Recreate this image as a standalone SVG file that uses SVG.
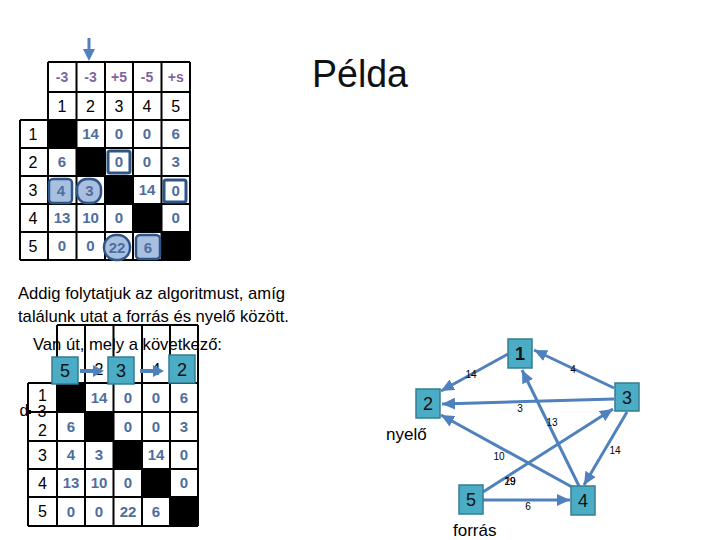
<svg xmlns="http://www.w3.org/2000/svg" width="720" height="540" viewBox="0 0 720 540">
<defs>
<style>
.grid{stroke:#000;stroke-width:2;fill:none}
.blk{fill:#000}
.lbl{font-family:"Liberation Sans",Arial,sans-serif;font-size:16px;fill:#000;text-anchor:middle}
.val{font-family:"Liberation Sans",Arial,sans-serif;font-size:15px;font-weight:bold;fill:#4e6e9e;text-anchor:middle}
.hdr{font-family:"Liberation Sans",Arial,sans-serif;font-size:14px;font-weight:bold;fill:#7f659f;text-anchor:middle}
.txt{font-family:"Liberation Sans",Arial,sans-serif;font-size:17px;fill:#000}
.node{fill:#4bacc6;stroke:#357d91;stroke-width:1.5}
.nlbl{font-family:"Liberation Sans",Arial,sans-serif;font-size:18px;fill:#111;text-anchor:middle}
.elbl{font-family:"Liberation Sans",Arial,sans-serif;font-size:10px;fill:#000;text-anchor:middle}
.edge{stroke:#4f81bd;stroke-width:3;fill:none}
.hl{fill:#fff;stroke:#2f5587;stroke-width:3}
.hlf{fill:#a9bfe0;stroke:#2f5587;stroke-width:2.5}
</style>
<marker id="ah" markerUnits="userSpaceOnUse" markerWidth="14" markerHeight="12" refX="13" refY="6" orient="auto">
<path d="M0,0 L13,6 L0,12 Z" fill="#4f81bd"/>
</marker>
</defs>

<!-- Title -->
<text x="312" y="87" font-family="'Liberation Sans',Arial,sans-serif" font-size="38" fill="#111" textLength="96" lengthAdjust="spacingAndGlyphs">Példa</text>

<!-- Top table -->
<g id="table-top">
<rect class="blk" x="48" y="120" width="28.5" height="28"/>
<rect class="blk" x="76.5" y="148" width="28.5" height="28"/>
<rect class="blk" x="105" y="176" width="28" height="28"/>
<rect class="blk" x="133" y="204" width="28.5" height="28"/>
<rect class="blk" x="161.5" y="232" width="28.5" height="28"/>
<path class="grid" d="M48,62H190M48,92H190M20,120H190M20,148H190M20,176H190M20,204H190M20,232H190M20,260H190M20,120V260M48,62V260M76.5,62V260M105,62V260M133,62V260M161.5,62V260M190,62V260"/>
<!-- highlights -->
<rect class="hl" x="108" y="151" width="22" height="22" rx="2"/>
<rect class="hl" x="164" y="180" width="22" height="22" rx="2"/>
<rect class="hlf" x="49" y="179" width="23" height="24" rx="4"/>
<rect class="hlf" x="77" y="179" width="24" height="24" rx="10"/>
<rect class="hlf" x="104" y="235" width="26" height="25" rx="12"/>
<rect class="hlf" x="136" y="235" width="24" height="24" rx="4"/>
<text class="hdr" x="62" y="82">-3</text>
<text class="hdr" x="90.5" y="82">-3</text>
<text class="hdr" x="119" y="82">+5</text>
<text class="hdr" x="147" y="82">-5</text>
<text class="hdr" x="175.7" y="82">+s</text>
<text class="lbl" x="62" y="112">1</text>
<text class="lbl" x="90.5" y="112">2</text>
<text class="lbl" x="119" y="112">3</text>
<text class="lbl" x="147" y="112">4</text>
<text class="lbl" x="175.7" y="112">5</text>
<text class="lbl" x="33" y="140">1</text>
<text class="lbl" x="33" y="168">2</text>
<text class="lbl" x="33" y="196">3</text>
<text class="lbl" x="33" y="224">4</text>
<text class="lbl" x="33" y="252">5</text>
<text class="val" x="90.5" y="139">14</text>
<text class="val" x="119" y="139">0</text>
<text class="val" x="147" y="139">0</text>
<text class="val" x="175.7" y="139">6</text>
<text class="val" x="62" y="167">6</text>
<text class="val" x="119" y="167">0</text>
<text class="val" x="147" y="167">0</text>
<text class="val" x="175.7" y="167">3</text>
<text class="val" x="61" y="196">4</text>
<text class="val" x="89.5" y="196">3</text>
<text class="val" x="147" y="195">14</text>
<text class="val" x="175.7" y="196">0</text>
<text class="val" x="62" y="223">13</text>
<text class="val" x="90.5" y="223">10</text>
<text class="val" x="119" y="223">0</text>
<text class="val" x="175.7" y="223">0</text>
<text class="val" x="62" y="251">0</text>
<text class="val" x="90.5" y="251">0</text>
<text class="val" x="117" y="253">22</text>
<text class="val" x="148" y="253">6</text>
</g>
<g id="top-arrow">
<line x1="89" y1="38" x2="89" y2="50" stroke="#4f81bd" stroke-width="3"/>
<path d="M83,49 L95,49 L89,61 Z" fill="#4f81bd"/>
</g>

<!-- Paragraph text -->
<text class="txt" x="18" y="299" textLength="267" lengthAdjust="spacingAndGlyphs">Addig folytatjuk az algoritmust, amíg</text>
<text class="txt" x="18" y="322" textLength="271" lengthAdjust="spacingAndGlyphs">találunk utat a forrás és nyelő között.</text>
<text class="txt" x="33" y="350" textLength="189" lengthAdjust="spacingAndGlyphs">Van út, mely a következő:</text>

<!-- Bottom table -->
<g id="table-bottom">
<rect class="blk" x="57" y="383" width="28" height="29"/>
<rect class="blk" x="85" y="412" width="28.5" height="29"/>
<rect class="blk" x="113.5" y="441" width="28.5" height="28"/>
<rect class="blk" x="142" y="469" width="28" height="28"/>
<rect class="blk" x="170" y="497" width="28" height="29"/>
<path class="grid" d="M57,325H198M28,383H198M28,412H198M28,441H198M28,469H198M28,497H198M28,526H198M28,383V526M57,325V526M85,325V526M113.5,325V526M142,325V526M170,325V526M198,325V526"/>
<text class="lbl" x="99" y="375">2</text>
<text class="lbl" x="156" y="375">4</text>
<text class="lbl" x="42.5" y="401">1</text>
<text class="lbl" x="42" y="417" font-size="11">3</text>
<text class="lbl" x="24" y="416">d</text>
<rect x="27" y="410" width="4" height="4" fill="#000"/>
<text class="lbl" x="42.5" y="436">2</text>
<text class="lbl" x="42.5" y="461">3</text>
<text class="lbl" x="42.5" y="489">4</text>
<text class="lbl" x="42.5" y="517">5</text>
<text class="val" x="99" y="403">14</text>
<text class="val" x="128" y="403">0</text>
<text class="val" x="156" y="403">0</text>
<text class="val" x="184" y="403">6</text>
<text class="val" x="71" y="432">6</text>
<text class="val" x="128" y="432">0</text>
<text class="val" x="156" y="432">0</text>
<text class="val" x="184" y="432">3</text>
<text class="val" x="71" y="460">4</text>
<text class="val" x="99" y="460">3</text>
<text class="val" x="156" y="460">14</text>
<text class="val" x="184" y="460">0</text>
<text class="val" x="71" y="488">13</text>
<text class="val" x="99" y="488">10</text>
<text class="val" x="128" y="488">0</text>
<text class="val" x="184" y="488">0</text>
<text class="val" x="71" y="517">0</text>
<text class="val" x="99" y="517">0</text>
<text class="val" x="128" y="517">22</text>
<text class="val" x="156" y="517">6</text>
</g>
<g id="path-boxes">
<rect class="node" x="52" y="357" width="26" height="27"/>
<text class="nlbl" x="65" y="377" font-size="17">5</text>
<rect class="node" x="108" y="357" width="26" height="27"/>
<text class="nlbl" x="121" y="377" font-size="17">3</text>
<rect class="node" x="169" y="355" width="26" height="28"/>
<text class="nlbl" x="182" y="376" font-size="17">2</text>
<line x1="80" y1="371" x2="94" y2="371" stroke="#4f81bd" stroke-width="4"/>
<path d="M93,365 L104,371 L93,377 Z" fill="#4f81bd"/>
<line x1="140" y1="371" x2="154" y2="371" stroke="#4f81bd" stroke-width="4"/>
<path d="M153,365 L164,371 L153,377 Z" fill="#4f81bd"/>
</g>

<!-- Graph connectors -->
<g id="connectors">
<line class="edge" x1="508" y1="354" x2="441" y2="391" marker-end="url(#ah)"/>
<line class="edge" x1="614" y1="388" x2="534" y2="350" marker-end="url(#ah)"/>
<line class="edge" x1="614" y1="399" x2="442" y2="404" marker-end="url(#ah)"/>
<line class="edge" x1="579" y1="486" x2="522" y2="370" marker-end="url(#ah)"/>
<line class="edge" x1="572" y1="487" x2="441" y2="415" marker-end="url(#ah)"/>
<line class="edge" x1="483" y1="492" x2="613" y2="409" marker-end="url(#ah)"/>
<line class="edge" x1="627" y1="412" x2="584" y2="485" marker-end="url(#ah)"/>
<line class="edge" x1="483" y1="500" x2="570" y2="500" marker-end="url(#ah)"/>
<text class="elbl" x="471" y="378">14</text>
<text class="elbl" x="573" y="373">4</text>
<text class="elbl" x="520" y="412">3</text>
<text class="elbl" x="552" y="426">13</text>
<text class="elbl" x="499" y="460">10</text>
<text class="elbl" x="615" y="454">14</text>
<text class="elbl" x="510" y="485">29</text>
<text class="elbl" x="510" y="485">19</text>
<text class="elbl" x="528" y="510">6</text>
</g>

<!-- Graph nodes -->
<g id="node-1"><rect class="node" x="508" y="339" width="24" height="29"/><text class="nlbl" x="520" y="360" font-weight="bold">1</text></g>
<g id="node-2"><rect class="node" x="416" y="389" width="24" height="29"/><text class="nlbl" x="428" y="410">2</text></g>
<g id="node-3"><rect class="node" x="615" y="383" width="24" height="28"/><text class="nlbl" x="627" y="404">3</text></g>
<g id="node-4"><rect class="node" x="571" y="486" width="24" height="29"/><text class="nlbl" x="583" y="507">4</text></g>
<g id="node-5"><rect class="node" x="459" y="485" width="24" height="29"/><text class="nlbl" x="471" y="506">5</text></g>
<text class="txt" x="386" y="440" font-size="16">nyelő</text>
<text class="txt" x="453" y="536" font-size="16">forrás</text>
</svg>
